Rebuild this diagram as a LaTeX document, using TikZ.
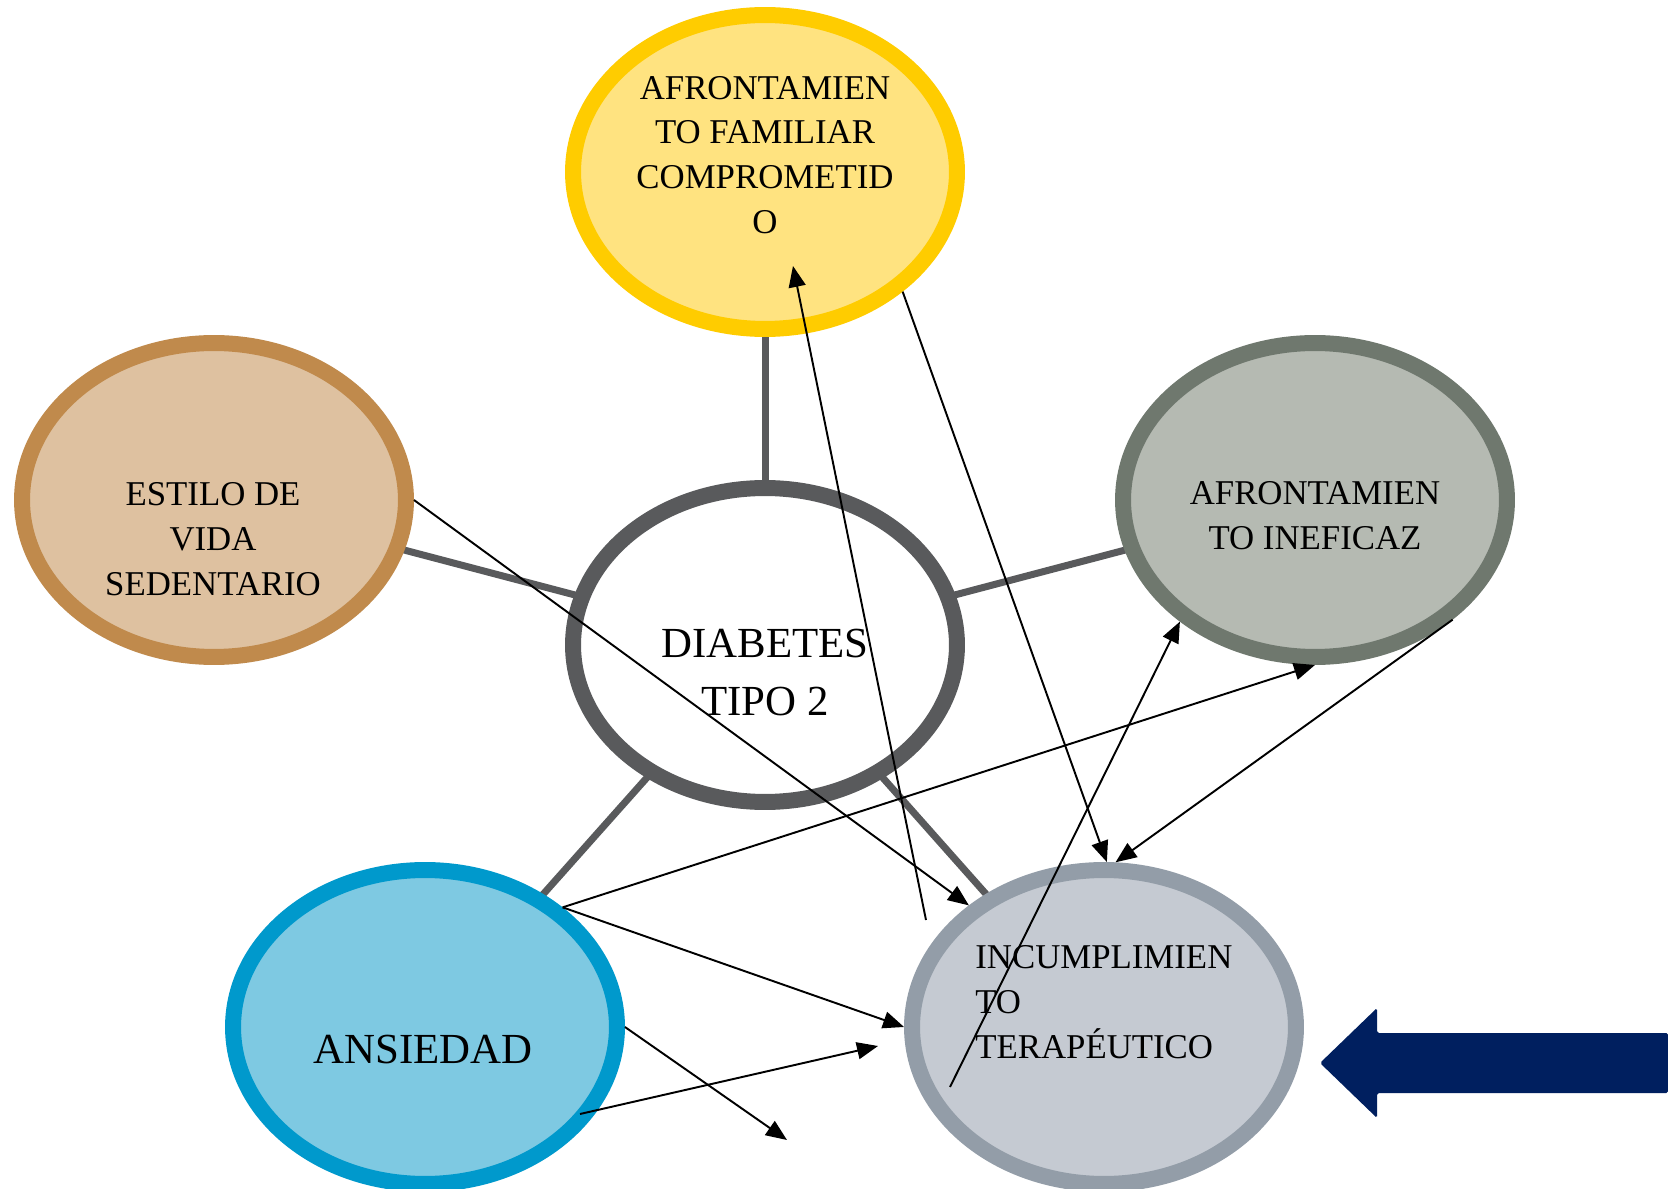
\documentclass[tikz,border=0pt]{standalone}
\usepackage{fontspec}
\setmainfont{Liberation Serif}
\usetikzlibrary{shapes.geometric, arrows.meta, calc, backgrounds}
\definecolor{amarilloborde}{RGB}{255,204,0}
\definecolor{amarillofondo}{RGB}{255,227,128}
\definecolor{cafeborde}{RGB}{192,138,76}
\definecolor{cafefondo}{RGB}{222,193,160}
\definecolor{grisborde}{RGB}{89,90,92}
\definecolor{verdeborde}{RGB}{111,120,110}
\definecolor{verdefondo}{RGB}{181,186,178}
\definecolor{azulborde}{RGB}{0,153,204}
\definecolor{azulfondo}{RGB}{126,201,226}
\definecolor{plataborde}{RGB}{147,157,168}
\definecolor{platafondo}{RGB}{197,202,210}
\definecolor{marino}{RGB}{0,31,95}

\tikzset{
  burbuja/.style={ellipse, line width=0.32cm, minimum width=7.68cm, minimum height=6.28cm, inner sep=0pt},
  enlace/.style={line width=0.14cm, grisborde},
  flecha/.style={line width=1.1pt, -{Triangle[length=0.42cm, width=0.34cm]}},
  texto/.style={font=\fontsize{19.8}{25.5}\selectfont, align=center, inner sep=0pt},
  textogrande/.style={font=\fontsize{24.4}{33}\selectfont, align=center, inner sep=0pt}
}

\begin{document}
\begin{tikzpicture}[x=0.02cm, y=-0.02cm]
        \useasboundingbox (0,0) rectangle (1668,1189);

        % Burbujas
        \node[burbuja, draw=amarilloborde, fill=amarillofondo] (familiar) at (765,172) {};
        \node[burbuja, draw=cafeborde, fill=cafefondo] (estilo) at (214,500) {};
        \node[burbuja, draw=grisborde, fill=white] (diabetes) at (765,645) {};
        \node[burbuja, draw=verdeborde, fill=verdefondo] (ineficaz) at (1315,500) {};
        \node[burbuja, draw=azulborde, fill=azulfondo] (ansiedad) at (425,1027) {};
        \node[burbuja, draw=plataborde, fill=platafondo] (incumpl) at (1104,1027) {};

        % Enlaces con el centro
        \begin{scope}[on background layer]
            \fill[white] (0,0) rectangle (1668,1189);
            \foreach \b in {familiar, estilo, ineficaz, ansiedad, incumpl}
                \draw[enlace] (diabetes.center) -- (\b.center);
        \end{scope}

        % Textos
        \node[texto] (tfamiliar) at (765,155) {AFRONTAMIEN\\TO FAMILIAR\\COMPROMETID\\O};
        \node[texto] (testilo) at (213,539) {ESTILO DE\\VIDA\\SEDENTARIO};
        \node[textogrande] (tdiabetes) at (765,673) {DIABETES\\TIPO 2};
        \node[texto] (tineficaz) at (1315,516) {AFRONTAMIEN\\TO INEFICAZ};
        \node[textogrande] (tansiedad) at (423,1050) {ANSIEDAD};
        \node[texto, align=left, anchor=west] (tincumpl) at (975,1002) {INCUMPLIMIEN\\TO\\TERAPÉUTICO};

        % Flechas
        \coordinate (sueltoA) at (787,1140);
        \coordinate (sueltoB) at (878,1046);
        \draw[flecha] (estilo.east) -- (incumpl.138);
        \draw[flecha] ($(incumpl)+(-178,-107)$) -- ($(familiar)+(28,94)$);
        \draw[flecha] (familiar.-41) -- (incumpl.89);
        \draw[flecha] (ineficaz.-41) -- (incumpl.86);
        \draw[flecha] (ansiedad.41) -- (ineficaz.south);
        \draw[flecha] (ansiedad.41) -- (incumpl.west);
        \draw[flecha] ($(ansiedad)+(155,87)$) -- (sueltoB);
        \draw[flecha] (ansiedad.east) -- (sueltoA);
        \draw[flecha] ($(incumpl)+(-154,60)$) -- (ineficaz.-138);

        % Flecha grande
        \fill[marino, rounded corners=1pt] (1668,1033) -- (1377,1033) -- (1377,1008) -- (1320,1063)
            -- (1377,1118) -- (1377,1093) -- (1668,1093) -- cycle;
\end{tikzpicture}
\end{document}
